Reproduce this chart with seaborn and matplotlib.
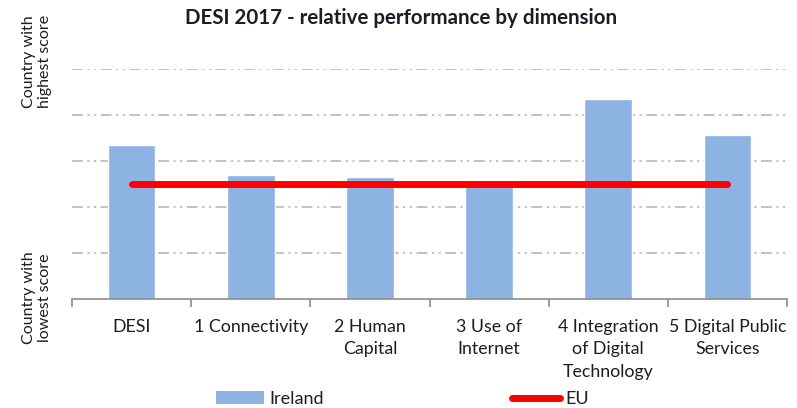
import matplotlib
matplotlib.use("Agg")
import matplotlib.pyplot as plt
from matplotlib.lines import Line2D
from matplotlib.patches import Patch
import seaborn as sns

# === Data (relative position: 0 = lowest country, 1 = highest country)
categories = ["DESI", "1 Connectivity", "2 Human\nCapital", "3 Use of\nInternet",
              "4 Integration\nof Digital\nTechnology", "5 Digital Public\nServices"]
ireland = [0.67, 0.54, 0.53, 0.49, 0.87, 0.715]
eu = [0.50, 0.50, 0.50, 0.50, 0.50, 0.50]

BAR = "#8DB3E2"
TXT = "#1c1c28"

sns.set_theme(style="white")
plt.rcParams["font.family"] = ["Lato", "DejaVu Sans"]

fig = plt.figure(figsize=(7.97, 4.08), dpi=100)
ax = fig.add_axes([0.0903, 0.267, 0.8972, 0.564])

# === Bars + EU line
sns.barplot(x=categories, y=ireland, color=BAR, width=0.4, saturation=1, ax=ax, zorder=2)
sns.lineplot(x=categories, y=eu, color="#FF0000", linewidth=5, sort=False, ax=ax, zorder=3)

# === Axes styling
ax.set_xlim(-0.5, 5.5)
ax.set_ylim(0, 1)
ax.set_yticks([0.2, 0.4, 0.6, 0.8, 1.0])
ax.set_yticklabels([])
ax.yaxis.grid(True, color="#bdbdbd", linewidth=1.3, dashes=(6, 2.5, 1.2, 2.5, 1.2, 2.5), zorder=0)
ax.tick_params(axis="y", length=0)
for side in ["left", "right", "top"]:
    ax.spines[side].set_visible(False)
ax.spines["bottom"].set_color("#8c8c8c")
ax.spines["bottom"].set_linewidth(1.2)
ax.set_xticks(range(len(categories)))
ax.set_xticklabels(categories, fontsize=12.8, color=TXT, linespacing=1.5)
ax.tick_params(axis="x", length=0, pad=14)
ax.set_xticks([i - 0.5 for i in range(len(categories) + 1)], minor=True)
ax.tick_params(axis="x", which="minor", bottom=True, length=6, width=1.2,
               color="#8c8c8c", direction="out")

# === Titles / axis labels
fig.text(0.503, 0.957, "DESI 2017 - relative performance by dimension", ha="center", va="center",
         fontsize=14.8, fontweight="bold", color=TXT)
fig.text(0.046, 0.85, "Country with\nhighest score", rotation=90, ha="center", va="center",
         fontsize=11.5, color=TXT, linespacing=1.2)
fig.text(0.046, 0.27, "Country with\nlowest score", rotation=90, ha="center", va="center",
         fontsize=11.5, color=TXT, linespacing=1.2)

# === Legend
handles = [Patch(facecolor=BAR, edgecolor="none"),
           Line2D([0], [0], color="#FF0000", linewidth=5)]
fig.legend(handles, ["Ireland", "EU"], loc="center", bbox_to_anchor=(0.505, 0.022), ncol=2,
           frameon=False, fontsize=13, handlelength=2.67, handleheight=0.7,
           handletextpad=0.28, columnspacing=10.4, labelcolor=TXT)

fig.savefig("out.png", dpi=100)
